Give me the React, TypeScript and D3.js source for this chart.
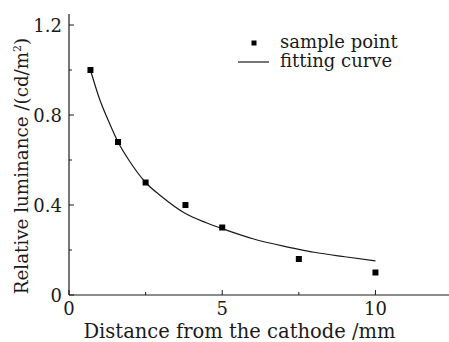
import React from "react";
import * as d3 from "d3";

const sampleX = [0.7, 1.6, 2.5, 3.8, 5.0, 7.5, 10.0];
const sampleY = [1.0, 0.68, 0.5, 0.4, 0.3, 0.16, 0.1];

const curveX = [0.7, 1.0, 1.3, 1.6, 2.0, 2.5, 3.0, 3.8, 4.5, 5.0, 6.0, 7.0, 7.5, 8.0, 9.0, 10.0];
const curveY = [1.0, 0.87, 0.77, 0.68, 0.59, 0.5, 0.44, 0.362, 0.32, 0.295, 0.25, 0.217, 0.203, 0.19, 0.17, 0.152];

const xMajorTicks = [0, 5, 10];
const xMinorTicks = [2.5, 7.5];
const yMajorTicks = [0, 0.4, 0.8, 1.2];
const yMinorTicks = [0.2, 0.6, 1.0];

const legendLabels = ["sample point", "fitting curve"];
const xTitle = "Distance from the cathode /mm";

const W = 449;
const H = 342;
const FONT = "'DejaVu Serif', serif";
const INK = "#1a1a1a";

export default function App() {
  const x = d3.scaleLinear().domain([0, 12.4]).range([69, 449]);
  const y = d3.scaleLinear().domain([0, 1.249]).range([295, 14]);
  const line = d3
    .line<number>()
    .x((_, i) => x(curveX[i]))
    .y((d) => y(d))
    .curve(d3.curveMonotoneX);
  const fmtY = (v: number) => (v === 0 ? "0" : v.toFixed(1));
  const ms = 6;
  return (
    <svg
      width={W}
      height={H}
      style={{ position: "absolute", left: 0, top: 0, background: "#fff" }}
      fontFamily={FONT}
    >
      <rect x={0} y={0} width={W} height={H} fill="#fff" />
      {/* axes */}
      <line x1={x(0)} x2={x(0)} y1={14} y2={295} stroke={INK} strokeWidth={1.2} />
      <line x1={x(0)} x2={449} y1={295} y2={295} stroke={INK} strokeWidth={1.2} />
      {xMajorTicks.map((t) => (
        <line key={"xm" + t} x1={x(t)} x2={x(t)} y1={295} y2={290} stroke={INK} strokeWidth={1} />
      ))}
      {xMinorTicks.map((t) => (
        <line key={"xn" + t} x1={x(t)} x2={x(t)} y1={295} y2={292} stroke={INK} strokeWidth={1} />
      ))}
      {yMajorTicks.map((t) => (
        <line key={"ym" + t} x1={x(0)} x2={x(0) + 5} y1={y(t)} y2={y(t)} stroke={INK} strokeWidth={1} />
      ))}
      {yMinorTicks.map((t) => (
        <line key={"yn" + t} x1={x(0)} x2={x(0) + 3} y1={y(t)} y2={y(t)} stroke={INK} strokeWidth={1} />
      ))}
      {xMajorTicks.map((t) => (
        <text key={"xl" + t} x={x(t)} y={315} textAnchor="middle" fontSize={18} fill={INK}>
          {t}
        </text>
      ))}
      {yMajorTicks.map((t) => (
        <text
          key={"yl" + t}
          x={62}
          y={y(t) + 6.5}
          textAnchor="end"
          fontSize={18}
          fill={INK}
        >
          {fmtY(t)}
        </text>
      ))}
      <text x={239.5} y={338} textAnchor="middle" fontSize={19.5} fill={INK}>
        {xTitle}
      </text>
      <text
        transform={`translate(28,166) rotate(-90)`}
        textAnchor="middle"
        fontSize={18.3}
        fill={INK}
      >
        Relative luminance /(cd/m
        <tspan fontSize={11} dy={-7}>2</tspan>
        <tspan dy={7}>)</tspan>
      </text>
      {/* curve */}
      <path d={line(curveY) || ""} fill="none" stroke={INK} strokeWidth={1.2} />
      {/* points */}
      {sampleX.map((sx, i) => (
        <rect
          key={"p" + i}
          x={x(sx) - ms / 2}
          y={y(sampleY[i]) - ms / 2}
          width={ms}
          height={ms}
          fill="#000"
        />
      ))}
      {/* legend */}
      <rect x={254 - 2.5} y={43 - 2.5} width={5} height={5} fill="#000" />
      <text x={280} y={48} fontSize={18} fill={INK}>
        {legendLabels[0]}
      </text>
      <line x1={238} x2={269} y1={62} y2={62} stroke={INK} strokeWidth={1.2} />
      <text x={280} y={67} fontSize={18} fill={INK}>
        {legendLabels[1]}
      </text>
    </svg>
  );
}
